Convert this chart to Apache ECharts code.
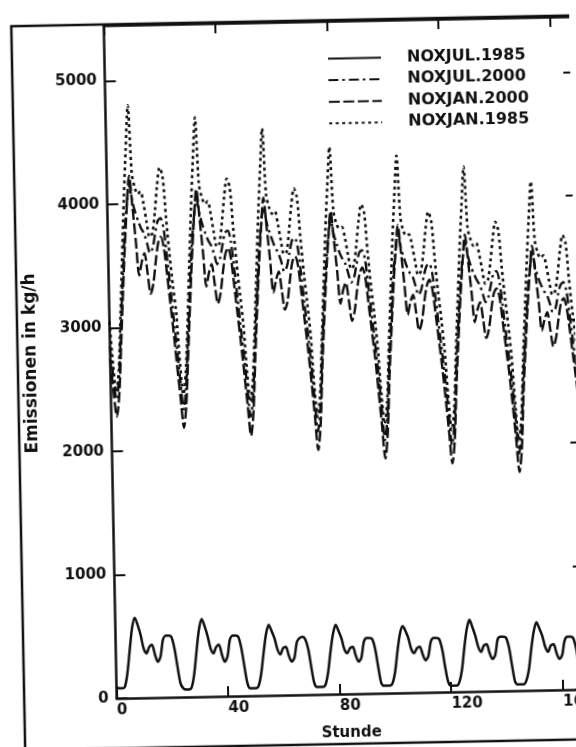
<!DOCTYPE html>
<html>
<head>
<meta charset="utf-8">
<script src="https://cdn.jsdelivr.net/npm/echarts@6.0.0/dist/echarts.min.js"></script>
<style>
  html, body { margin: 0; padding: 0; background: #fff; overflow: hidden; }
  #chart { width: 576px; height: 747px; transform: rotate(-1.1deg); transform-origin: 50% 50%; background: #fff; }
</style>
</head>
<body>
<div id="chart"></div>
<script>
// Hour of the week (x), values in kg/h (y)
const seriesNames = ['NOXJUL.1985', 'NOXJUL.2000', 'NOXJAN.2000', 'NOXJAN.1985'];
const xTicks = [0, 40, 80, 120, 160];
const yTicks = [0, 1000, 2000, 3000, 4000, 5000];
const xName = 'Stunde';
const yName = 'Emissionen in kg/h';

const noxJul1985 = [
  90, 80, 80, 90, 200, 390, 570, 650, 590, 510, 400, 360, 410, 430, 350, 290, 330, 470, 500, 500, 490, 400, 250, 110,
  70, 60, 60, 80, 190, 380, 550, 630, 570, 490, 390, 350, 400, 420, 340, 280, 320, 460, 490, 490, 480, 390, 240, 100,
  60, 60, 60, 80, 180, 350, 500, 570, 520, 460, 370, 330, 380, 390, 320, 270, 300, 430, 460, 470, 450, 370, 220, 90,
  60, 60, 60, 80, 180, 350, 490, 560, 510, 450, 360, 330, 370, 380, 310, 260, 290, 420, 450, 450, 440, 360, 210, 80,
  60, 60, 60, 80, 170, 340, 480, 540, 500, 440, 350, 320, 360, 370, 310, 260, 290, 410, 440, 440, 430, 350, 200, 80,
  50, 50, 50, 80, 180, 360, 510, 580, 520, 450, 360, 320, 370, 380, 310, 260, 290, 420, 440, 440, 430, 350, 200, 70,
  50, 50, 50, 80, 170, 340, 480, 550, 500, 440, 350, 310, 360, 370, 300, 250, 280, 400, 430, 430, 420, 340, 190, 70,
  50
];
const noxJul2000 = [
  2850, 2600, 2420, 2580, 2980, 3380, 3750, 4000, 4150, 4020, 3930, 3860, 3800, 3760, 3680, 3600, 3640, 3760, 3860, 3880, 3800, 3580, 3330, 3080,
  2830, 2560, 2330, 2500, 2900, 3290, 3650, 3890, 4030, 3910, 3820, 3750, 3690, 3650, 3580, 3500, 3540, 3650, 3750, 3770, 3690, 3480, 3240, 2990,
  2760, 2490, 2260, 2430, 2840, 3220, 3570, 3810, 3950, 3830, 3750, 3680, 3620, 3580, 3510, 3430, 3470, 3580, 3680, 3700, 3620, 3410, 3170, 2940,
  2690, 2400, 2130, 2310, 2760, 3130, 3470, 3700, 3840, 3720, 3640, 3570, 3520, 3480, 3400, 3330, 3370, 3480, 3570, 3590, 3520, 3310, 3080, 2850,
  2600, 2320, 2050, 2230, 2670, 3030, 3360, 3580, 3710, 3600, 3520, 3450, 3400, 3370, 3290, 3220, 3260, 3370, 3450, 3470, 3400, 3200, 2980, 2760,
  2530, 2260, 2000, 2170, 2610, 2960, 3280, 3500, 3630, 3520, 3440, 3380, 3330, 3290, 3220, 3150, 3190, 3290, 3380, 3400, 3330, 3130, 2910, 2700,
  2470, 2190, 1920, 2100, 2530, 2870, 3190, 3400, 3530, 3420, 3340, 3280, 3230, 3200, 3130, 3060, 3090, 3200, 3280, 3300, 3230, 3040, 2830, 2620,
  2400
];
const noxJan2000 = [
  2750, 2480, 2280, 2450, 2850, 3260, 3650, 3980, 4230, 3980, 3700, 3420, 3530, 3600, 3440, 3270, 3350, 3530, 3680, 3730, 3640, 3420, 3180, 2940,
  2670, 2420, 2180, 2370, 2770, 3170, 3550, 3870, 4110, 3870, 3600, 3320, 3430, 3500, 3340, 3180, 3260, 3430, 3580, 3630, 3540, 3320, 3090, 2860,
  2610, 2350, 2105, 2290, 2720, 3110, 3480, 3790, 4030, 3790, 3530, 3260, 3360, 3430, 3280, 3120, 3190, 3360, 3510, 3550, 3470, 3260, 3030, 2800,
  2540, 2260, 1980, 2180, 2640, 3020, 3380, 3680, 3910, 3680, 3420, 3160, 3270, 3330, 3180, 3020, 3100, 3270, 3400, 3450, 3370, 3160, 2940, 2720,
  2450, 2170, 1900, 2100, 2550, 2920, 3270, 3560, 3790, 3560, 3310, 3060, 3160, 3220, 3080, 2930, 3000, 3160, 3290, 3340, 3260, 3060, 2850, 2630,
  2380, 2110, 1850, 2040, 2490, 2850, 3190, 3480, 3700, 3480, 3240, 2990, 3090, 3150, 3010, 2860, 2930, 3090, 3220, 3260, 3190, 2990, 2780, 2570,
  2320, 2040, 1770, 1960, 2420, 2770, 3100, 3380, 3600, 3380, 3150, 2910, 3000, 3060, 2920, 2780, 2850, 3000, 3130, 3170, 3090, 2910, 2700, 2500,
  2280
];
const noxJan1985 = [
  3050, 2700, 2480, 2650, 3100, 3580, 4050, 4450, 4800, 4250, 4130, 4080, 4100, 4000, 3850, 3730, 3760, 3930, 4150, 4290, 4220, 3880, 3580, 3330,
  3110, 2700, 2450, 2620, 3030, 3500, 3960, 4350, 4690, 4150, 4040, 3990, 4010, 3910, 3760, 3640, 3670, 3840, 4050, 4190, 4120, 3790, 3500, 3250,
  3000, 2620, 2380, 2550, 2960, 3420, 3870, 4250, 4590, 4060, 3950, 3900, 3920, 3820, 3680, 3570, 3590, 3760, 3970, 4100, 4030, 3710, 3420, 3180,
  2920, 2500, 2250, 2420, 2860, 3300, 3740, 4110, 4430, 3920, 3810, 3770, 3780, 3690, 3550, 3440, 3470, 3630, 3830, 3960, 3900, 3580, 3300, 3070,
  2800, 2420, 2180, 2350, 2810, 3240, 3670, 4030, 4350, 3850, 3740, 3700, 3710, 3620, 3490, 3380, 3410, 3560, 3760, 3890, 3820, 3520, 3240, 3020,
  2750, 2370, 2120, 2290, 2740, 3170, 3580, 3940, 4250, 3760, 3660, 3610, 3630, 3540, 3410, 3300, 3330, 3480, 3670, 3800, 3730, 3430, 3170, 2950,
  2680, 2290, 2030, 2200, 2660, 3070, 3470, 3820, 4120, 3650, 3540, 3500, 3520, 3430, 3300, 3200, 3230, 3370, 3560, 3680, 3620, 3330, 3070, 2860,
  2600
];

const INK = '#111';
const FONT = 'DejaVu Sans';
const toPairs = arr => arr.map((v, i) => [i, v]);

const chart = echarts.init(document.getElementById('chart'), null, { renderer: 'canvas' });

const baseText = { fontFamily: FONT, fontWeight: 'bold', fontSize: 15, color: INK };
const plainNum = v => String(v);

function mkLine(name, data, dash, width) {
  return {
    name: name,
    type: 'line',
    data: toPairs(data),
    symbol: 'none',
    smooth: 0.3,
    xAxisIndex: 0,
    yAxisIndex: 0,
    lineStyle: { color: INK, width: width, type: dash },
    itemStyle: { color: INK },
    emphasis: { disabled: true },
    z: 3
  };
}

const option = {
  animation: false,
  backgroundColor: '#fff',
  grid: { left: 110.5, top: 21.9, width: 468.5, height: 673.1, outerBoundsMode: 'none', containLabel: false },
  legend: {
    orient: 'vertical',
    left: 333,
    top: 51.5,
    padding: 0,
    itemWidth: 53,
    itemHeight: 14,
    itemGap: 5.6,
    data: seriesNames,
    selectedMode: false,
    itemStyle: { opacity: 0 },
    textStyle: Object.assign({}, baseText, { fontSize: 16, padding: [0, 0, 0, 21], lineHeight: 14 })
  },
  xAxis: [
    {
      type: 'value', min: 0, max: 168, position: 'bottom',
      name: xName, nameLocation: 'middle', nameGap: 32,
      nameTextStyle: Object.assign({}, baseText),
      axisLine: { show: true, onZero: false, lineStyle: { color: INK, width: 2.5 } },
      axisTick: { show: true, inside: true, length: 10, customValues: xTicks, lineStyle: { color: INK, width: 2 } },
      axisLabel: Object.assign({}, baseText, { customValues: xTicks, align: 'left', margin: 5, formatter: plainNum }),
      splitLine: { show: false }
    },
    {
      type: 'value', min: 0, max: 168, position: 'top',
      axisLine: { show: true, onZero: false, lineStyle: { color: INK, width: 2.5 } },
      axisTick: { show: true, inside: true, length: 10, customValues: xTicks, lineStyle: { color: INK, width: 2 } },
      axisLabel: { show: false },
      splitLine: { show: false }
    }
  ],
  yAxis: [
    {
      type: 'value', min: 0, max: 5450, position: 'left',
      name: yName, nameLocation: 'middle', nameGap: 70, nameRotate: 90,
      nameTextStyle: Object.assign({}, baseText, { fontSize: 17 }),
      axisLine: { show: true, onZero: false, lineStyle: { color: INK, width: 2.5 } },
      axisTick: { show: true, inside: true, length: 11, customValues: yTicks, lineStyle: { color: INK, width: 2 } },
      axisLabel: Object.assign({}, baseText, { customValues: yTicks, margin: 8, padding: [0, 0, 6, 0], formatter: plainNum }),
      splitLine: { show: false }
    },
    {
      type: 'value', min: 0, max: 5450, position: 'right',
      axisLine: { show: true, onZero: false, lineStyle: { color: INK, width: 2.5 } },
      axisTick: { show: true, inside: true, length: 10, customValues: yTicks, lineStyle: { color: INK, width: 2 } },
      axisLabel: { show: false },
      splitLine: { show: false }
    }
  ],
  graphic: [
    {
      type: 'rect', silent: true, z: -1,
      shape: { x: 18, y: 21, width: 620, height: 724 },
      style: { fill: 'none', stroke: INK, lineWidth: 2.5 }
    }
  ],
  series: [
    mkLine(seriesNames[0], noxJul1985, 'solid', 2.5),
    mkLine(seriesNames[1], noxJul2000, [10, 4, 2.5, 4], 2.4),
    mkLine(seriesNames[2], noxJan2000, [11, 3.5], 2.4),
    mkLine(seriesNames[3], noxJan1985, [3, 3.5], 2.6)
  ]
};

chart.setOption(option);
</script>
</body>
</html>
